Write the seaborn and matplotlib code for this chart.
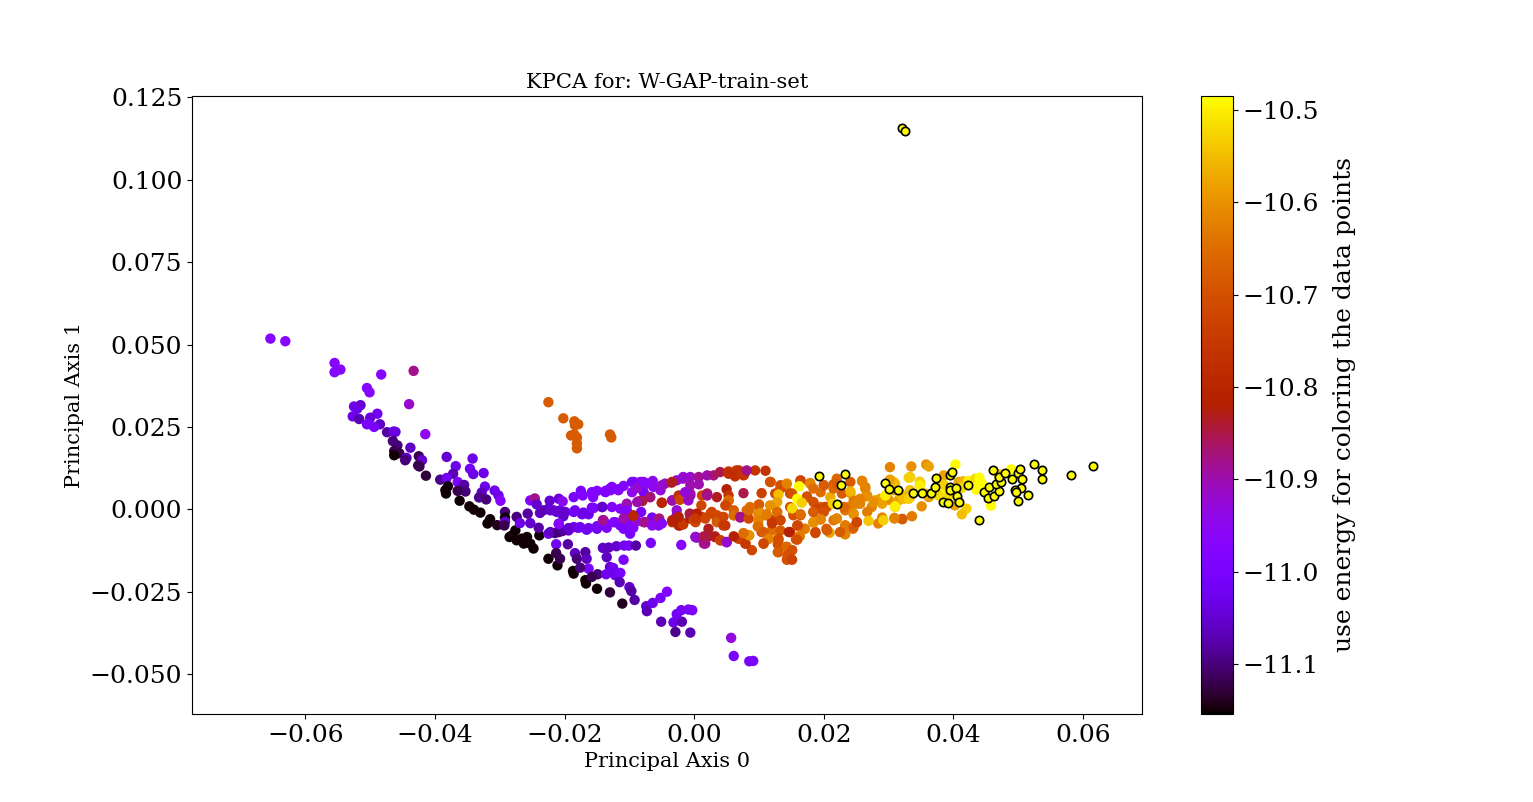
import matplotlib
matplotlib.use("Agg")
import matplotlib.pyplot as plt
import pandas as pd
import seaborn as sns
from matplotlib.cm import ScalarMappable
from matplotlib.colors import Normalize

# (axis 0, axis 1, energy)
tail = [
    (-0.0654, 0.0518, -10.97), (-0.0631, 0.0510, -10.97), (-0.0555, 0.0444, -10.97), (-0.0555, 0.0416, -10.97),
    (-0.0546, 0.0424, -10.97), (-0.0483, 0.0409, -10.97), (-0.0433, 0.0420, -10.88), (-0.0505, 0.0368, -10.97),
    (-0.0501, 0.0355, -10.97), (-0.0440, 0.0319, -10.92), (-0.0415, 0.0228, -10.95), (-0.0525, 0.0312, -11.03),
    (-0.0515, 0.0316, -11.05), (-0.0520, 0.0305, -11.03), (-0.0527, 0.0282, -11.03), (-0.0517, 0.0274, -11.07),
    (-0.0489, 0.0290, -11.02), (-0.0500, 0.0278, -11.04), (-0.0485, 0.0258, -11.06), (-0.0505, 0.0258, -11.00),
    (-0.0494, 0.0250, -11.00), (-0.0474, 0.0234, -11.08), (-0.0464, 0.0236, -11.04), (-0.0461, 0.0235, -11.04),
    (-0.0465, 0.0207, -11.10), (-0.0458, 0.0194, -11.10), (-0.0438, 0.0187, -11.06), (-0.0463, 0.0177, -11.12),
    (-0.0455, 0.0170, -11.12), (-0.0463, 0.0164, -11.15), (-0.0444, 0.0156, -11.06), (-0.0446, 0.0149, -11.10),
    (-0.0425, 0.0161, -11.12), (-0.0420, 0.0149, -11.05), (-0.0426, 0.0133, -11.12), (-0.0424, 0.0130, -11.12),
    (-0.0414, 0.0102, -11.13), (-0.0382, 0.0159, -11.05), (-0.0342, 0.0154, -11.03), (-0.0368, 0.0131, -11.03),
    (-0.0346, 0.0123, -11.02), (-0.0341, 0.0107, -11.03), (-0.0325, 0.0110, -11.03), (-0.0372, 0.0108, -11.07),
    (-0.0392, 0.0090, -11.09), (-0.0382, 0.0095, -11.02), (-0.0365, 0.0083, -11.00), (-0.0355, 0.0074, -11.08),
    (-0.0353, 0.0054, -11.10), (-0.0365, 0.0056, -11.12), (-0.0380, 0.0070, -11.15), (-0.0384, 0.0058, -11.15),
    (-0.0383, 0.0048, -11.15), (-0.0362, 0.0026, -11.15), (-0.0347, 0.0009, -11.15), (-0.0340, -0.0001, -11.15),
    (-0.0330, -0.0010, -11.15), (-0.0315, -0.0030, -11.15), (-0.0319, -0.0043, -11.15), (-0.0304, -0.0048, -11.14),
    (-0.0292, -0.0008, -11.10), (-0.0292, -0.0025, -11.15), (-0.0292, -0.0038, -11.05), (-0.0293, -0.0049, -11.12),
    (-0.0323, 0.0069, -11.03), (-0.0328, 0.0051, -11.06), (-0.0332, 0.0036, -11.09), (-0.0321, 0.0030, -11.10),
    (-0.0308, 0.0057, -11.03), (-0.0302, 0.0042, -11.03), (-0.0299, 0.0026, -10.98),
]
black_edge = [
    (-0.0281, -0.0079, -11.15), (-0.0276, -0.0064, -11.15), (-0.0266, -0.0089, -11.15), (-0.0258, -0.0084, -11.15),
    (-0.0253, -0.0104, -11.15), (-0.0248, -0.0119, -11.15), (-0.0263, -0.0104, -11.15), (-0.0274, -0.0094, -11.15),
    (-0.0285, -0.0084, -11.15), (-0.0239, -0.0079, -11.15), (-0.0225, -0.0150, -11.15), (-0.0211, -0.0170, -11.15),
    (-0.0187, -0.0187, -11.15), (-0.0186, -0.0195, -11.15), (-0.0168, -0.0215, -11.15), (-0.0167, -0.0225, -11.15),
    (-0.0150, -0.0241, -11.15), (-0.0130, -0.0252, -11.13), (-0.0111, -0.0286, -11.14),
]
orange_clump = [
    (-0.0225, 0.0325, -10.68), (-0.0202, 0.0276, -10.68), (-0.0185, 0.0267, -10.68), (-0.0179, 0.0258, -10.68),
    (-0.0185, 0.0227, -10.68), (-0.0190, 0.0224, -10.68), (-0.0181, 0.0218, -10.68), (-0.0181, 0.0185, -10.68),
    (-0.0130, 0.0227, -10.68), (-0.0128, 0.0218, -10.68), (-0.0181, 0.0200, -10.68), (-0.0184, 0.0255, -10.68),
]
lower_branch = [
    (-0.0213, -0.0106, -11.02), (-0.0195, -0.0106, -11.08), (-0.0213, -0.0133, -11.12), (-0.0207, -0.0150, -11.12),
    (-0.0184, -0.0133, -11.06), (-0.0181, -0.0150, -11.10), (-0.0168, -0.0130, -11.08), (-0.0166, -0.0150, -11.06),
    (-0.0163, -0.0180, -11.00), (-0.0176, -0.0177, -11.10), (-0.0149, -0.0197, -11.10), (-0.0158, -0.0205, -11.12),
    (-0.0141, -0.0117, -11.06), (-0.0132, -0.0116, -11.06), (-0.0120, -0.0112, -11.05), (-0.0108, -0.0110, -11.02),
    (-0.0101, -0.0110, -11.00), (-0.0090, -0.0110, -11.08), (-0.0135, -0.0145, -11.06), (-0.0109, -0.0153, -11.00),
    (-0.0130, -0.0175, -11.05), (-0.0125, -0.0178, -11.02), (-0.0136, -0.0197, -11.02), (-0.0122, -0.0200, -11.03),
    (-0.0114, -0.0193, -11.00), (-0.0115, -0.0221, -11.07), (-0.0100, -0.0236, -11.05), (-0.0097, -0.0248, -11.08),
    (-0.0092, -0.0275, -11.08), (-0.0074, -0.0294, -11.05), (-0.0073, -0.0309, -11.07), (-0.0064, -0.0284, -11.03),
    (-0.0052, -0.0269, -11.00), (-0.0042, -0.0250, -10.98), (-0.0051, -0.0341, -11.07), (-0.0032, -0.0343, -11.03),
    (-0.0019, -0.0341, -11.07), (-0.0027, -0.0318, -11.02), (-0.0020, -0.0306, -11.01), (-0.0009, -0.0304, -11.00),
    (-0.0003, -0.0306, -11.00), (-0.0029, -0.0372, -11.09), (-0.0006, -0.0374, -11.07), (0.0057, -0.0390, -10.93),
    (0.0061, -0.0445, -11.00), (0.0085, -0.0461, -11.00), (0.0091, -0.0460, -11.00),
]
lower_arc = [
    (-0.0274, -0.0023, -11.10), (-0.0257, -0.0013, -11.08), (-0.0269, -0.0042, -11.03), (-0.0253, -0.0042, -11.05),
    (-0.0240, -0.0056, -11.08), (-0.0225, -0.0074, -11.03), (-0.0215, -0.0072, -11.10), (-0.0204, -0.0066, -11.08),
    (-0.0194, -0.0064, -11.05), (-0.0179, -0.0056, -11.03), (-0.0166, -0.0062, -11.02), (-0.0150, -0.0059, -11.02),
    (-0.0135, -0.0056, -11.00), (-0.0122, -0.0039, -10.98), (-0.0109, -0.0059, -11.00), (-0.0099, -0.0074, -11.00),
    (-0.0094, -0.0056, -10.98), (-0.0078, -0.0039, -10.87), (-0.0065, -0.0025, -11.00), (-0.0055, -0.0049, -10.97),
    (-0.0054, -0.0028, -10.87), (-0.0140, -0.0033, -10.88), (-0.0108, -0.0026, -10.92), (-0.0094, -0.0018, -10.80),
    (-0.0034, -0.0039, -10.78), (-0.0022, -0.0049, -10.87), (-0.0017, -0.0042, -10.75), (-0.0027, -0.0018, -10.92),
    (-0.0006, -0.0015, -10.78), (0.0002, -0.0028, -10.73), (0.0012, -0.0023, -10.73), (0.0025, -0.0013, -10.72),
    (0.0035, -0.0033, -10.70), (0.0048, -0.0049, -10.76), (0.0022, -0.0059, -10.83), (0.0004, -0.0086, -10.92),
    (0.0020, -0.0084, -10.85), (0.0015, -0.0104, -10.88), (0.0032, -0.0084, -10.82), (0.0041, -0.0094, -10.73),
    (0.0050, -0.0100, -10.92), (-0.0020, -0.0108, -10.97), (-0.0067, -0.0102, -11.00), (0.0061, -0.0018, -10.70),
    (0.0071, -0.0025, -10.88), (0.0081, -0.0003, -10.66), (0.0079, -0.0104, -10.72), (0.0089, -0.0124, -10.72),
    (0.0070, -0.0089, -10.72), (0.0084, -0.0079, -10.62),
]
lower_arc_extra = [
    (-0.0186, -0.0054, -11.03), (-0.0176, -0.0054, -11.02), (-0.0163, -0.0057, -11.02), (-0.0150, -0.0051, -11.00),
    (-0.0137, -0.0043, -10.98), (-0.0124, -0.0039, -10.98), (-0.0114, -0.0049, -11.00), (-0.0101, -0.0039, -10.98),
    (-0.0088, -0.0036, -10.93), (-0.0076, -0.0039, -10.88), (-0.0065, -0.0049, -10.95), (-0.0050, -0.0043, -10.97),
    (-0.0034, -0.0033, -10.82), (-0.0024, -0.0049, -10.82), (-0.0017, -0.0046, -10.75), (-0.0006, -0.0028, -10.82),
    (0.0002, -0.0039, -10.72), (0.0002, -0.0084, -10.92), (-0.0222, -0.0069, -11.06), (-0.0209, -0.0069, -11.10),
    (-0.0202, -0.0064, -11.08), (-0.0209, -0.0045, -10.98), (-0.0194, -0.0057, -11.05),
]
middle_band = [
    (-0.0238, -0.0011, -11.06), (-0.0225, 0.0002, -11.05), (-0.0217, -0.0003, -11.03), (-0.0207, -0.0003, -11.03),
    (-0.0199, -0.0008, -11.05), (-0.0186, -0.0008, -11.02), (-0.0173, -0.0015, -11.02), (-0.0163, -0.0015, -11.03),
    (-0.0202, -0.0021, -11.06), (-0.0209, -0.0043, -10.97), (-0.0155, 0.0004, -10.98), (-0.0142, 0.0007, -11.02),
    (-0.0127, 0.0007, -10.98), (-0.0104, 0.0012, -10.92), (-0.0105, -0.0006, -10.98), (-0.0082, -0.0008, -11.00),
    (-0.0233, -0.0003, -11.07), (-0.0222, -0.0003, -11.05), (-0.0212, -0.0008, -11.05), (-0.0202, -0.0013, -11.05),
    (-0.0184, -0.0003, -11.02), (-0.0171, -0.0010, -11.03), (-0.0158, 0.0005, -11.00), (-0.0142, 0.0007, -11.05),
    (-0.0114, 0.0002, -10.97), (-0.0104, 0.0017, -10.90), (-0.0104, -0.0003, -10.98), (-0.0086, 0.0024, -10.92),
    (-0.0081, 0.0027, -10.80), (-0.0068, 0.0037, -10.88), (-0.0050, 0.0020, -10.80), (-0.0034, 0.0027, -10.92),
    (-0.0094, -0.0020, -10.80), (-0.0109, -0.0028, -10.90), (-0.0141, -0.0033, -10.88),
]
upper_arc = [
    (-0.0253, 0.0027, -10.98), (-0.0246, 0.0033, -10.88), (-0.0243, 0.0015, -11.05), (-0.0223, 0.0026, -11.05),
    (-0.0209, 0.0032, -11.04), (-0.0203, 0.0024, -10.95), (-0.0186, 0.0037, -11.00), (-0.0175, 0.0056, -11.00),
    (-0.0172, 0.0042, -10.98), (-0.0156, 0.0037, -10.98), (-0.0158, 0.0052, -10.98), (-0.0150, 0.0056, -10.98),
    (-0.0137, 0.0052, -10.98), (-0.0127, 0.0068, -10.98), (-0.0129, 0.0058, -10.98), (-0.0117, 0.0058, -10.98),
    (-0.0109, 0.0071, -10.98), (-0.0093, 0.0083, -10.97), (-0.0083, 0.0083, -10.97), (-0.0096, 0.0052, -10.95),
    (-0.0078, 0.0052, -11.00), (-0.0073, 0.0078, -10.95), (-0.0064, 0.0086, -10.95), (-0.0063, 0.0068, -10.95),
    (-0.0052, 0.0058, -10.93), (-0.0045, 0.0078, -10.90), (-0.0035, 0.0081, -10.83), (-0.0034, 0.0027, -10.90),
    (-0.0024, 0.0042, -10.78), (-0.0022, 0.0029, -10.72), (-0.0027, 0.0088, -10.92), (-0.0017, 0.0098, -10.93),
    (-0.0006, 0.0098, -10.92), (0.0007, 0.0098, -10.88), (0.0007, 0.0076, -10.90), (0.0012, 0.0042, -10.72),
    (0.0011, 0.0012, -10.72), (-0.0006, 0.0048, -10.90), (-0.0009, 0.0027, -10.92), (0.0020, 0.0048, -10.85),
    (0.0020, 0.0103, -10.90), (0.0030, 0.0103, -10.87), (0.0040, 0.0113, -10.85), (0.0053, 0.0115, -10.75),
    (0.0065, 0.0118, -10.75), (0.0063, 0.0100, -10.78), (0.0077, 0.0105, -10.78), (0.0094, 0.0118, -10.76),
    (0.0110, 0.0117, -10.76), (0.0035, 0.0037, -10.83), (0.0050, 0.0061, -10.82), (0.0076, 0.0049, -10.85),
    (0.0104, 0.0049, -10.73), (0.0118, 0.0083, -10.70), (0.0053, 0.0042, -10.76), (0.0053, 0.0027, -10.68),
    (0.0050, 0.0012, -10.68), (-0.0050, 0.0020, -10.80), (-0.0068, 0.0037, -10.87), (-0.0080, 0.0025, -10.85),
    (-0.0088, 0.0022, -10.90), (-0.0096, 0.0083, -11.00), (-0.0088, 0.0065, -10.92), (-0.0078, 0.0083, -10.97),
    (-0.0050, 0.0073, -10.92), (-0.0034, 0.0083, -10.83), (-0.0017, 0.0093, -10.92), (-0.0006, 0.0073, -10.90),
    (-0.0006, 0.0042, -10.90), (-0.0014, 0.0052, -10.93), (-0.0007, -0.0013, -10.85), (-0.0027, -0.0003, -10.92),
    (-0.0024, -0.0023, -10.82), (-0.0001, -0.0033, -10.72), (0.0004, -0.0013, -10.82), (-0.0130, 0.0063, -10.98),
    (-0.0117, 0.0061, -10.98), (-0.0137, 0.0056, -10.98),
]
orange_mid = [
    (0.0053, 0.0108, -10.78), (0.0069, 0.0118, -10.77), (0.0076, 0.0103, -10.76), (0.0081, 0.0118, -10.88),
    (0.0020, 0.0042, -10.88), (0.0053, 0.0027, -10.66), (0.0048, 0.0012, -10.72), (0.0061, -0.0003, -10.68),
    (0.0061, -0.0018, -10.65), (0.0035, -0.0018, -10.72), (0.0027, -0.0008, -10.72), (0.0035, -0.0039, -10.68),
    (0.0017, -0.0028, -10.72), (0.0002, -0.0028, -10.75), (0.0045, -0.0023, -10.72), (0.0045, -0.0049, -10.75),
    (0.0071, -0.0023, -10.88), (0.0084, -0.0003, -10.65), (0.0084, -0.0028, -10.72), (0.0099, -0.0013, -10.62),
    (0.0099, -0.0049, -10.65), (0.0110, -0.0018, -10.63), (0.0120, -0.0033, -10.74), (0.0104, -0.0069, -10.70),
    (0.0120, -0.0064, -10.65), (0.0133, -0.0033, -10.72), (0.0128, -0.0008, -10.60), (0.0099, 0.0012, -10.70),
    (0.0148, -0.0069, -10.76), (0.0159, -0.0049, -10.72), (0.0171, -0.0059, -10.60), (0.0184, -0.0039, -10.60),
    (0.0187, -0.0069, -10.72), (0.0148, 0.0007, -10.70), (0.0164, -0.0018, -10.70), (0.0184, -0.0008, -10.66),
    (0.0153, -0.0008, -10.68), (0.0174, 0.0037, -10.72), (0.0179, 0.0078, -10.62), (0.0141, 0.0068, -10.63),
    (0.0133, 0.0063, -10.70), (0.0125, 0.0048, -10.72), (0.0148, 0.0048, -10.72), (0.0164, 0.0088, -10.72),
    (0.0076, -0.0084, -10.72), (0.0084, -0.0079, -10.60), (0.0068, -0.0089, -10.73), (0.0079, -0.0104, -10.75),
    (0.0115, -0.0089, -10.62), (0.0107, -0.0104, -10.72), (0.0130, -0.0094, -10.70), (0.0130, -0.0130, -10.67),
    (0.0143, -0.0114, -10.68), (0.0151, -0.0124, -10.70), (0.0148, -0.0150, -10.72), (0.0162, -0.0082, -10.62),
    (0.0157, -0.0091, -10.70), (0.0017, -0.0104, -10.88), (0.0002, -0.0084, -10.92), (0.0015, -0.0082, -10.85),
    (0.0032, -0.0082, -10.83), (0.0040, -0.0094, -10.74), (0.0050, -0.0099, -10.92), (0.0061, -0.0082, -10.82),
]
orange_band = [
    (0.0117, 0.0083, -10.70), (0.0133, 0.0073, -10.70), (0.0143, 0.0078, -10.62), (0.0164, 0.0086, -10.72),
    (0.0179, 0.0080, -10.62), (0.0130, 0.0045, -10.55), (0.0128, 0.0022, -10.58), (0.0117, 0.0012, -10.60),
    (0.0100, 0.0015, -10.68), (0.0086, 0.0007, -10.65), (0.0084, -0.0003, -10.66), (0.0102, -0.0011, -10.60),
    (0.0099, -0.0033, -10.62), (0.0098, -0.0052, -10.65), (0.0112, -0.0015, -10.63), (0.0128, -0.0008, -10.65),
    (0.0133, -0.0033, -10.72), (0.0120, -0.0043, -10.75), (0.0153, -0.0018, -10.70), (0.0164, -0.0015, -10.65),
    (0.0184, -0.0008, -10.65), (0.0195, 0.0007, -10.68), (0.0205, 0.0007, -10.68), (0.0210, 0.0037, -10.57),
    (0.0184, 0.0063, -10.65), (0.0200, 0.0073, -10.68), (0.0174, 0.0039, -10.70), (0.0151, 0.0048, -10.70),
    (0.0195, 0.0052, -10.65), (0.0220, 0.0093, -10.66), (0.0215, 0.0076, -10.67), (0.0241, 0.0083, -10.68),
    (0.0241, 0.0049, -10.58), (0.0259, 0.0086, -10.62), (0.0264, 0.0063, -10.62), (0.0265, 0.0039, -10.60),
    (0.0279, 0.0027, -10.58), (0.0256, 0.0017, -10.62), (0.0246, 0.0027, -10.63), (0.0238, 0.0007, -10.62),
    (0.0274, 0.0007, -10.62), (0.0233, -0.0003, -10.64), (0.0246, -0.0015, -10.60), (0.0220, -0.0028, -10.60),
    (0.0215, -0.0033, -10.64), (0.0251, -0.0039, -10.70), (0.0233, -0.0049, -10.62), (0.0245, -0.0059, -10.65),
    (0.0204, -0.0059, -10.68), (0.0209, -0.0071, -10.58), (0.0233, -0.0076, -10.62), (0.0187, -0.0072, -10.72),
    (0.0170, -0.0059, -10.63), (0.0163, -0.0081, -10.63), (0.0159, -0.0092, -10.70), (0.0160, -0.0049, -10.72),
    (0.0184, -0.0040, -10.62), (0.0195, -0.0031, -10.63), (0.0133, -0.0064, -10.68), (0.0146, -0.0069, -10.82),
    (0.0107, -0.0069, -10.68), (0.0115, -0.0089, -10.62), (0.0085, -0.0079, -10.60), (0.0076, -0.0072, -10.65),
    (0.0107, -0.0104, -10.72), (0.0130, -0.0089, -10.70), (0.0129, -0.0106, -10.70), (0.0129, -0.0130, -10.68),
    (0.0142, -0.0114, -10.66), (0.0151, -0.0124, -10.70), (0.0144, -0.0140, -10.70), (0.0143, -0.0153, -10.70),
    (0.0151, -0.0153, -10.73), (0.0284, -0.0043, -10.62), (0.0290, -0.0025, -10.62), (0.0309, -0.0028, -10.62),
    (0.0321, -0.0030, -10.68), (0.0302, 0.0128, -10.62), (0.0287, 0.0032, -10.58), (0.0300, 0.0029, -10.60),
    (0.0315, 0.0027, -10.58), (0.0335, 0.0130, -10.60), (0.0358, 0.0136, -10.60), (0.0362, 0.0130, -10.58),
    (0.0351, 0.0009, -10.60), (0.0362, 0.0037, -10.58), (0.0323, 0.0037, -10.58), (0.0333, 0.0037, -10.58),
    (0.0336, -0.0021, -10.63), (0.0321, -0.0029, -10.68), (0.0309, -0.0026, -10.62), (0.0385, 0.0103, -10.58),
    (0.0408, 0.0083, -10.58), (0.0402, 0.0012, -10.58),
    (0.0200, 0.0073, -10.68), (0.0184, 0.0022, -10.70), (0.0189, 0.0002, -10.72), (0.0202, 0.0007, -10.72),
    (0.0184, -0.0008, -10.68), (0.0200, -0.0008, -10.70), (0.0215, 0.0063, -10.66), (0.0220, 0.0078, -10.68),
    (0.0228, 0.0048, -10.68), (0.0241, 0.0054, -10.56), (0.0241, 0.0007, -10.63), (0.0231, 0.0007, -10.66),
    (0.0251, 0.0017, -10.62), (0.0267, 0.0042, -10.60), (0.0256, 0.0032, -10.62), (0.0290, 0.0017, -10.58),
    (0.0264, 0.0068, -10.62), (0.0259, 0.0086, -10.62), (0.0246, -0.0013, -10.60), (0.0267, -0.0008, -10.63),
    (0.0220, -0.0028, -10.62), (0.0233, -0.0049, -10.63), (0.0246, -0.0054, -10.68), (0.0251, -0.0039, -10.72),
    (0.0225, -0.0069, -10.68), (0.0205, -0.0064, -10.68), (0.0184, -0.0039, -10.60), (0.0195, -0.0030, -10.62),
    (0.0333, 0.0098, -10.55), (0.0303, 0.0088, -10.57), (0.0323, 0.0032, -10.55), (0.0308, 0.0058, -10.57),
    (0.0349, 0.0078, -10.52), (0.0356, 0.0048, -10.55), (0.0333, 0.0058, -10.55), (0.0318, 0.0048, -10.55),
    (0.0277, 0.0022, -10.60), (0.0415, 0.0085, -10.56),
]
yellow_band = [
    (0.0162, 0.0070, -10.49), (0.0159, 0.0032, -10.49), (0.0166, 0.0020, -10.53), (0.0151, 0.0003, -10.52),
    (0.0214, 0.0017, -10.53), (0.0269, -0.0035, -10.54), (0.0292, -0.0033, -10.53), (0.0295, 0.0042, -10.50),
    (0.0310, 0.0007, -10.52), (0.0331, 0.0096, -10.52), (0.0308, 0.0083, -10.55), (0.0403, 0.0136, -10.49),
    (0.0332, 0.0096, -10.53), (0.0348, 0.0084, -10.53), (0.0348, 0.0073, -10.50), (0.0423, 0.0086, -10.50),
    (0.0434, 0.0093, -10.52), (0.0440, 0.0096, -10.49), (0.0444, 0.0078, -10.49), (0.0439, 0.0073, -10.49),
    (0.0489, 0.0121, -10.49), (0.0470, 0.0106, -10.55), (0.0458, 0.0011, -10.49), (0.0385, 0.0048, -10.50),
    (0.0377, 0.0042, -10.52), (0.0393, 0.0042, -10.52), (0.0420, 0.0002, -10.53), (0.0413, -0.0015, -10.55),
    (0.0310, 0.0078, -10.55), (0.0302, 0.0090, -10.58), (0.0310, 0.0009, -10.50), (0.0331, 0.0032, -10.53),
    (0.0385, 0.0075, -10.53), (0.0413, 0.0065, -10.52), (0.0435, 0.0060, -10.49), (0.0470, 0.0085, -10.52),
]
# lowest energy points, drawn with a black outline on top
outlined_x = [
    0.0192, 0.0232, 0.0226, 0.0221, 0.0295, 0.0301, 0.0314, 0.0337, 0.0351, 0.0366, 0.0371, 0.0373, 0.0395, 0.0398,
    0.0394, 0.0394, 0.0404, 0.0384, 0.0392, 0.0406, 0.0409, 0.0423, 0.0440, 0.0447, 0.0455, 0.0454, 0.0463, 0.0470,
    0.0465, 0.0474, 0.0470, 0.0461, 0.0480, 0.0490, 0.0500, 0.0502, 0.0506, 0.0504, 0.0495, 0.0497, 0.0499, 0.0515,
    0.0524, 0.0536, 0.0536, 0.0581, 0.0616, 0.0321, 0.0326,
]
outlined_y = [
    0.0102, 0.0108, 0.0075, 0.0017, 0.0079, 0.0062, 0.0060, 0.0051, 0.0051, 0.0051, 0.0069, 0.0096, 0.0103, 0.0114,
    0.0068, 0.0058, 0.0066, 0.0023, 0.0020, 0.0039, 0.0022, 0.0075, -0.0031, 0.0054, 0.0067, 0.0035, 0.0039, 0.0057,
    0.0078, 0.0084, 0.0098, 0.0120, 0.0111, 0.0093, 0.0110, 0.0121, 0.0093, 0.0066, 0.0060, 0.0052, 0.0026, 0.0042,
    0.0136, 0.0120, 0.0093, 0.0105, 0.0130, 0.1156, 0.1147,
]
outlined_energy = -10.49

x_ticks = [-0.06, -0.04, -0.02, 0.00, 0.02, 0.04, 0.06]
y_ticks = [-0.050, -0.025, 0.000, 0.025, 0.050, 0.075, 0.100, 0.125]
energy_ticks = [-11.1, -11.0, -10.9, -10.8, -10.7, -10.6, -10.5]

sns.set_style("ticks")
plt.rcParams["font.family"] = "DejaVu Serif"
plt.rcParams["mathtext.fontset"] = "dejavuserif"
plt.rcParams.update({"text.color": "black", "axes.labelcolor": "black", "xtick.color": "black",
                     "ytick.color": "black", "axes.edgecolor": "black"})

df = pd.DataFrame(
    tail + black_edge + orange_clump + lower_branch + lower_arc + lower_arc_extra + middle_band + upper_arc
    + orange_mid + orange_band + yellow_band,
    columns=["axis0", "axis1", "energy"],
)
norm = Normalize(vmin=-11.154, vmax=-10.485)
cmap = plt.get_cmap("gnuplot")

fig = plt.figure(figsize=(15.33, 8.02), dpi=100)
ax = fig.add_axes([192 / 1533, 1 - 714 / 802, 950 / 1533, 618 / 802])
cax = fig.add_axes([1201 / 1533, 1 - 714 / 802, 32 / 1533, 618 / 802])

sns.scatterplot(data=df, x="axis0", y="axis1", hue="energy", palette="gnuplot", hue_norm=norm,
                s=56, linewidth=0, alpha=1, legend=False, ax=ax)
sns.scatterplot(x=outlined_x, y=outlined_y, color=cmap(norm(outlined_energy)), s=36,
                edgecolor="black", linewidth=1.2, legend=False, ax=ax, zorder=3)

ax.set_xlim(-0.0775, 0.0691)
ax.set_ylim(-0.0621, 0.1254)
ax.set_xticks(x_ticks)
ax.set_yticks(y_ticks)
ax.tick_params(labelsize=18)
ax.set_xlabel("Principal Axis 0", fontsize=15)
ax.set_ylabel("Principal Axis 1", fontsize=15)
ax.set_title("KPCA for: W-GAP-train-set", fontsize=15.2, pad=6)

cbar = fig.colorbar(ScalarMappable(norm=norm, cmap=cmap), cax=cax)
cbar.set_ticks(energy_ticks)
cbar.ax.tick_params(labelsize=18)
cbar.set_label("use energy for coloring the data points", fontsize=18, labelpad=10)

fig.savefig("out.png", dpi=100)
